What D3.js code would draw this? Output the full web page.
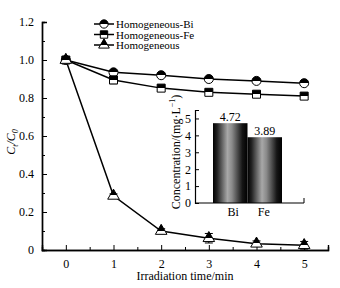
<!DOCTYPE html>
<html><head><meta charset="utf-8">
<script src="https://cdn.jsdelivr.net/npm/d3@7"></script>
<style>body{margin:0;background:#fff}svg{display:block}</style>
</head><body><svg id="c" width="340" height="288"></svg>
<script>
const times = [0, 1, 2, 3, 4, 5];
const seriesNames = ["Homogeneous-Bi", "Homogeneous-Fe", "Homogeneous"];
const biValues = [1.0, 0.935, 0.92, 0.90, 0.89, 0.878];
const feValues = [1.0, 0.895, 0.852, 0.83, 0.82, 0.81];
const homValues = [1.0, 0.285, 0.10, 0.062, 0.033, 0.025];
const biErr = [0.005, 0.01, 0.01, 0.008, 0.008, 0.01];
const feErr = [0.005, 0.02, 0.01, 0.008, 0.008, 0.008];
const homErr = [0.005, 0.01, 0.012, 0.025, 0.015, 0.02];
const xTicks = [0, 1, 2, 3, 4, 5];
const yTicks = [0, 0.2, 0.4, 0.6, 0.8, 1.0, 1.2];
const yTickLabels = ["0", "0.2", "0.4", "0.6", "0.8", "1.0", "1.2"];
const insetCats = ["Bi", "Fe"];
const insetValues = [4.72, 3.89];
const insetTicks = [0, 1, 2, 3, 4, 5];

const FONT = "Liberation Serif";
const svg = d3.select("#c");
const defs = svg.append("defs");
const hf = defs.append("linearGradient").attr("id","half").attr("x1",0).attr("y1",0).attr("x2",0).attr("y2",1);
hf.append("stop").attr("offset","0.5").attr("stop-color","#000");
hf.append("stop").attr("offset","0.5").attr("stop-color","#fff");
const hf2 = defs.append("linearGradient").attr("id","halfT").attr("x1",0).attr("y1",0).attr("x2",0).attr("y2",1);
hf2.append("stop").attr("offset","0.62").attr("stop-color","#000");
hf2.append("stop").attr("offset","0.62").attr("stop-color","#fff");
const bg = defs.append("linearGradient").attr("id","bar").attr("x1",0).attr("y1",0).attr("x2",1).attr("y2",0);
[[0,"#000"],[0.12,"#222"],[0.42,"#a8a8a8"],[0.55,"#8a8a8a"],[0.85,"#151515"],[1,"#000"]].forEach(s=>bg.append("stop").attr("offset",s[0]).attr("stop-color",s[1]));

const x = d3.scaleLinear().domain([-0.5, 5.5]).range([42, 328]);
const y = d3.scaleLinear().domain([0, 1.2]).range([250, 22]);

// axes
const yAxis = d3.axisLeft(y).tickValues(yTicks).tickSize(-5).tickPadding(8).tickFormat((d,i)=>yTickLabels[i]);
svg.append("g").attr("transform","translate(42,0)").call(yAxis);
const yMinor = d3.axisLeft(y).tickValues(d3.range(0.1,1.2,0.2)).tickSize(-3).tickFormat("");
svg.append("g").attr("transform","translate(42,0)").call(yMinor);
const xAxis = d3.axisBottom(x).tickValues(xTicks).tickSize(-5).tickPadding(9).tickFormat(d3.format("d"));
svg.append("g").attr("transform","translate(0,250)").call(xAxis);
const xMinor = d3.axisBottom(x).tickValues([-0.5,0.5,1.5,2.5,3.5,4.5,5.5]).tickSize(-3).tickFormat("");
svg.append("g").attr("transform","translate(0,250)").call(xMinor);
svg.selectAll(".domain").attr("stroke","#000").attr("stroke-width",1.4);
svg.selectAll(".tick line").attr("stroke","#000").attr("stroke-width",1);

// labels
svg.append("text").attr("x",185).attr("y",280).attr("text-anchor","middle").attr("font-size",12).text("Irradiation time/min");
const yl = svg.append("text").attr("transform","translate(15,142) rotate(-90)").attr("text-anchor","middle").attr("font-size",12).attr("font-style","italic");
yl.append("tspan").text("C");
yl.append("tspan").attr("font-size",8).attr("dy",3).text("t");
yl.append("tspan").attr("dy",-3).text("/C");
yl.append("tspan").attr("font-size",8).attr("dy",3).text("0");

const series = [
  {vals: biValues, err: biErr, sym: d3.symbolCircle, size: 64, fill: "url(#half)"},
  {vals: feValues, err: feErr, sym: d3.symbolSquare, size: 64, fill: "url(#half)"},
  {vals: homValues, err: homErr, sym: d3.symbolTriangle, size: 58, fill: "url(#halfT)"}
];
const line = d3.line().x((d,i)=>x(times[i])).y(d=>y(d));
series.forEach(s=>{
  svg.append("path").attr("d",line(s.vals)).attr("fill","none").attr("stroke","#000").attr("stroke-width",1.5);
});
series.forEach(s=>{
  const g = svg.append("g");
  s.vals.forEach((v,i)=>{
    const cx = x(times[i]), e = s.err[i];
    g.append("line").attr("x1",cx).attr("x2",cx).attr("y1",y(v-e)).attr("y2",y(v+e)).attr("stroke","#000");
    [v-e, v+e].forEach(w=>g.append("line").attr("x1",cx-4).attr("x2",cx+4).attr("y1",y(w)).attr("y2",y(w)).attr("stroke","#000"));
    g.append("path").attr("d",d3.symbol().type(s.sym).size(s.size)()).attr("transform",`translate(${cx},${y(v)})`)
      .attr("fill",s.fill).attr("stroke","#000").attr("stroke-width",1);
  });
});

// legend
series.forEach((s,i)=>{
  const ly = 24 + i*10.5;
  svg.append("line").attr("x1",94).attr("x2",114).attr("y1",ly).attr("y2",ly).attr("stroke","#000").attr("stroke-width",1.5);
  svg.append("path").attr("d",d3.symbol().type(s.sym).size(s.size*0.85)()).attr("transform",`translate(104,${ly})`)
    .attr("fill",s.fill).attr("stroke","#000");
  svg.append("text").attr("class","leg").attr("x",116).attr("y",ly+4).text(seriesNames[i]);
});

// inset
const ix = d3.scaleBand().domain(insetCats).range([213, 282]).padding(0);
const iy = d3.scaleLinear().domain([0, 5.5]).range([203, 110]);
svg.selectAll(".bar").data(insetValues).join("rect").attr("class","bar")
  .attr("x",(d,i)=>ix(insetCats[i])).attr("width",ix.bandwidth())
  .attr("y",d=>iy(d)).attr("height",d=>iy(0)-iy(d)).attr("fill","url(#bar)");
svg.selectAll(".blab").data(insetValues).join("text").attr("class","blab")
  .attr("x",(d,i)=>ix(insetCats[i])+ix.bandwidth()/2).attr("y",d=>iy(d)-2)
  .attr("text-anchor","middle").attr("font-size",12).text(d=>d.toFixed(2));
const iyAxis = d3.axisLeft(iy).tickValues(insetTicks).tickSize(-4).tickPadding(4).tickFormat(d3.format("d"));
svg.append("g").attr("class","inset").attr("transform","translate(195,0)").call(iyAxis);
svg.append("line").attr("x1",195).attr("x2",304).attr("y1",203).attr("y2",203).attr("stroke","#000").attr("stroke-width",1.2);
svg.append("line").attr("x1",304).attr("x2",304).attr("y1",203).attr("y2",198).attr("stroke","#000");
svg.selectAll(".inset .domain").attr("stroke","#000").attr("stroke-width",1.2);
svg.selectAll(".inset .tick line").attr("stroke","#000");
insetCats.forEach(c=>svg.append("text").attr("x",ix(c)+ix.bandwidth()/2+ (c==="Bi"?3:-1)).attr("y",216).attr("text-anchor","middle").attr("font-size",12).text(c));
const il = svg.append("text").attr("transform","translate(180,152) rotate(-90)").attr("text-anchor","middle").attr("font-size",12);
il.append("tspan").text("Concentration/(mg·L");
il.append("tspan").attr("font-size",8).attr("dy",-5).text("−1");
il.append("tspan").attr("dy",5).text(")");

svg.selectAll("text").attr("font-family",FONT).attr("fill","#000");
svg.selectAll(".tick text").attr("font-size",12);
svg.selectAll("text.leg").attr("font-size",11);
</script></body></html>
